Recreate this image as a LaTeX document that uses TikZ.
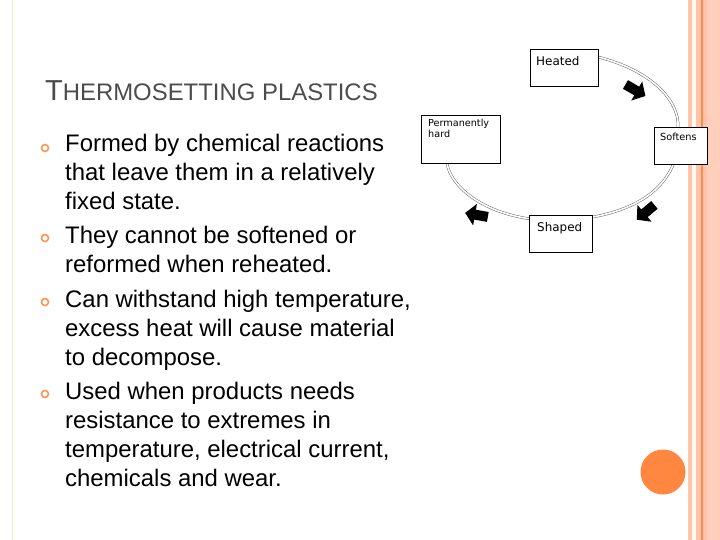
\documentclass[tikz,border=0pt]{standalone}
\usepackage{fontspec}
\setmainfont{Liberation Sans}
\newfontfamily\uifont{DejaVu Sans}
\begin{document}
\begin{tikzpicture}[x=1bp,y=-1bp,
  box/.style={draw=black,line width=0.9bp,fill=white,inner sep=3bp},
  cyc/.style={draw=gray!80!black,double=white,double distance=1.6bp,line width=0.5bp},
  blk/.style={fill=black},
  bul/.style={circle,draw=orange!80!red!70!white,line width=1.6bp,minimum size=7bp,inner sep=0pt},
  btxt/.style={anchor=north west,align=left,font=\fontsize{24}{29}\selectfont,text=black,inner sep=0pt}]
\useasboundingbox (0,0) rectangle (720,540);
\fill[white] (0,0) rectangle (720,540);
% right stripes
\fill[orange!30!pink!70!white] (688,0) rectangle (692,540);
\fill[orange!5!white] (692,0) rectangle (696,540);
\fill[orange!30!pink!70!white] (696,0) rectangle (701,540);
\fill[orange!70!red!70!white] (701,0) rectangle (702.5,540);
\fill[orange!30!pink!70!white] (702.5,0) rectangle (707,540);
\fill[orange!25!pink!60!white] (707,0) rectangle (720,540);
\draw[orange!20!white,line width=1bp] (12,0) -- (12,540);
% circle bottom right
\node[circle,fill=orange!75!red!75!white,minimum size=45bp,inner sep=0pt] (dot) at (663,472) {};
% title
\node[anchor=base west,inner sep=0pt,text=black!70] (title) at (45,101)
  {{\fontsize{29}{29}\selectfont T}{\fontsize{24}{24}\selectfont HERMOSETTING PLASTICS}};
% bullets
\node[btxt] (t1) at (65,134) {Formed by chemical reactions\\that leave them in a relatively\\fixed state.};
\node[btxt] (t2) at (65,226) {They cannot be softened or\\reformed when reheated.};
\node[btxt] (t3) at (65,290) {Can withstand high temperature,\\excess heat will cause material\\to decompose.};
\node[btxt] (t4) at (65,382) {Used when products needs\\resistance to extremes in\\temperature, electrical current,\\chemicals and wear.};
\node[bul] (b1) at (45,148) {};
\node[bul] (b2) at (45,238) {};
\node[bul] (b3) at (45,302) {};
\node[bul] (b4) at (45,394) {};
% cycle connectors
\coordinate (h1) at (598,57);
\coordinate (s1) at (678,128);
\coordinate (s2) at (673,165);
\coordinate (p1) at (593,217);
\coordinate (p2) at (531,219);
\coordinate (q1) at (447,163);
\draw[cyc] (h1) .. controls (650,70) and (680,100) .. (s1);
\draw[cyc] (s2) .. controls (660,195) and (630,210) .. (p1);
\draw[cyc] (p2) .. controls (480,212) and (450,185) .. (q1);
% boxes
\node[box,minimum width=68bp,minimum height=37bp] (heated) at (564,68) {};
\node[anchor=north west,font=\uifont\fontsize{12}{12}\selectfont,inner sep=0pt] (heatedt) at (536,56) {Heated};
\node[box,minimum width=53bp,minimum height=37bp] (soft) at (681,146) {};
\node[anchor=north west,font=\uifont\fontsize{9.8}{10}\selectfont,inner sep=0pt] (softt) at (660,133) {Softens};
\node[box,minimum width=63bp,minimum height=37bp] (shaped) at (561,234) {};
\node[anchor=north west,font=\uifont\fontsize{12}{12}\selectfont,inner sep=0pt] (shapedt) at (537,222) {Shaped};
\node[box,minimum width=79bp,minimum height=48bp] (hard) at (461,139) {};
\node[anchor=north west,align=left,font=\uifont\fontsize{9.7}{11}\selectfont,inner sep=0pt] (hardt) at (428,119) {Permanently\\hard};
% block arrows
\foreach \p/\a in {{(635,90)}/-30, {(646,212)}/-140, {(477,215)}/170}{
  \fill[blk,shift={\p},rotate=\a] (-11,-5) -- (2,-5) -- (2,-11) -- (12,0) -- (2,11) -- (2,5) -- (-11,5) -- cycle;
}
\end{tikzpicture}
\end{document}
